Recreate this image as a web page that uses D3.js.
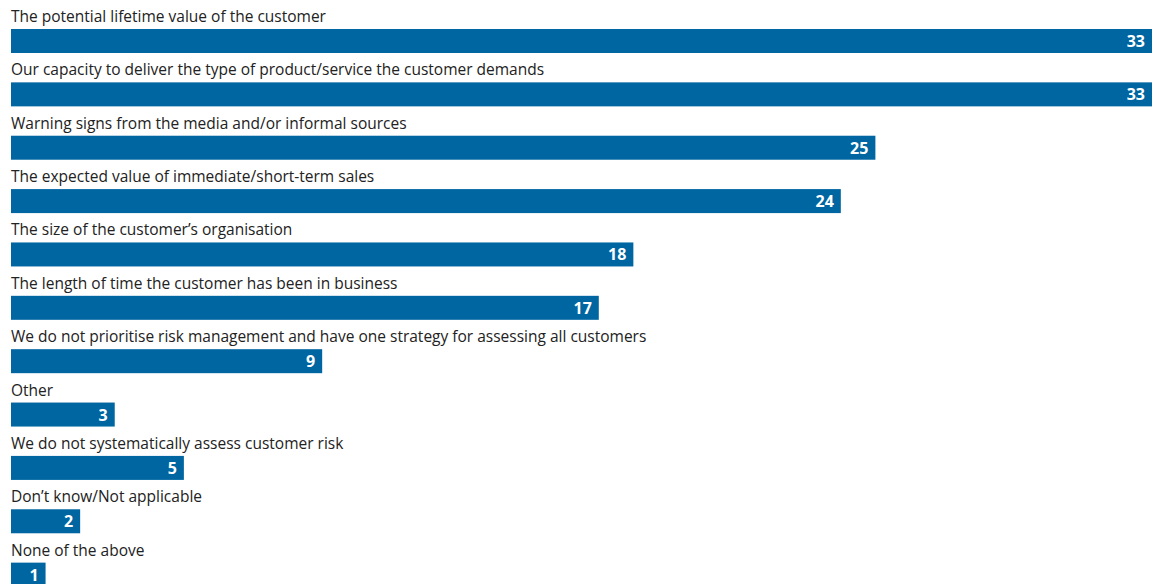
<!DOCTYPE html>
<html><head><meta charset="utf-8">
<script src="https://cdn.jsdelivr.net/npm/d3@7"></script>
<style>
html,body{margin:0;padding:0;background:#fff;}
svg{display:block;}
</style></head>
<body><svg id="c" width="1164" height="584"></svg>
<script>
const categories = [
  "The potential lifetime value of the customer",
  "Our capacity to deliver the type of product/service the customer demands",
  "Warning signs from the media and/or informal sources",
  "The expected value of immediate/short-term sales",
  "The size of the customer\u2019s organisation",
  "The length of time the customer has been in business",
  "We do not prioritise risk management and have one strategy for assessing all customers",
  "Other",
  "We do not systematically assess customer risk",
  "Don\u2019t know/Not applicable",
  "None of the above"
];
const values = [33, 33, 25, 24, 18, 17, 9, 3, 5, 2, 1];

const svg = d3.select("#c");
const x = d3.scaleLinear().domain([0, 33]).range([11, 1152]);
const y = d3.scaleBand().domain(categories).range([0, 587]).paddingInner(0);
const color = "#0066a1";
const font = "'Open Sans', sans-serif";

const g = svg.selectAll("g.row").data(categories).join("g").attr("class","row")
  .attr("transform", d => `translate(0,${y(d)})`);

g.append("text")
  .attr("x", 11).attr("y", 22)
  .attr("font-family", font).attr("font-size", 15.5)
  .attr("fill", "#222")
  .text(d => d);

g.append("rect")
  .attr("x", x(0)).attr("y", 29)
  .attr("width", (d,i) => x(values[i]) - x(0))
  .attr("height", 24)
  .attr("fill", color);

g.append("text")
  .attr("x", (d,i) => x(values[i]) - 7).attr("y", 47)
  .attr("text-anchor", "end")
  .attr("font-family", font).attr("font-size", 16).attr("font-weight", "bold")
  .attr("fill", "#fff")
  .text((d,i) => values[i]);
</script></body></html>
